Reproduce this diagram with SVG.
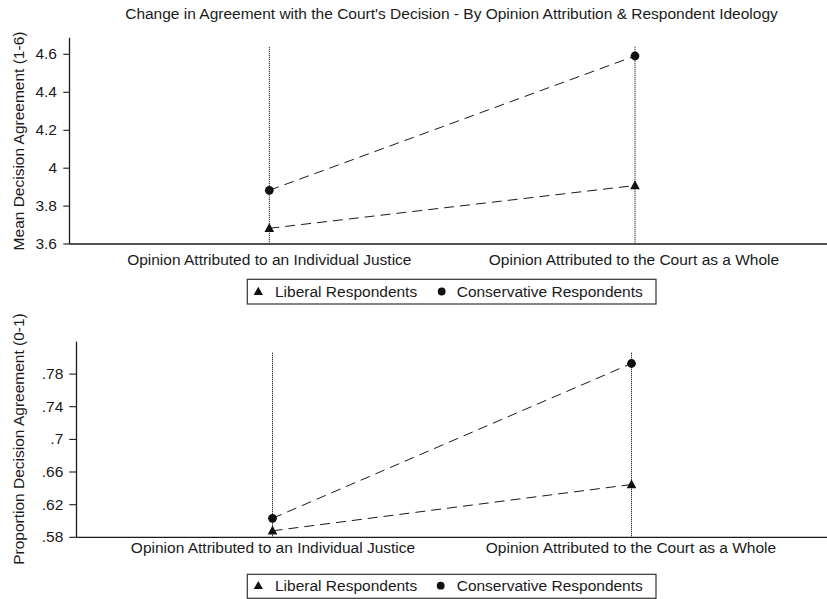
<svg xmlns="http://www.w3.org/2000/svg" xmlns:xlink="http://www.w3.org/1999/xlink" width="827" height="599" viewBox="0 0 827 599">
<style>
text{font-family:"Liberation Sans",Arial,sans-serif;font-size:15.5px;fill:#1a1a1a}
.ax{stroke:#1a1a1a;stroke-width:1.3;fill:none}
.tk{stroke:#1a1a1a;stroke-width:1.1;fill:none}
.dot{stroke:#222;stroke-width:1;stroke-dasharray:1.2 0.8;fill:none}
.dash{stroke:#1a1a1a;stroke-width:1;stroke-dasharray:10 6;fill:none}
.mk{fill:#111}
.lg{fill:#fff;stroke:#333;stroke-width:1.2}
.tl{text-anchor:end}
.mid{text-anchor:middle}
</style>
<defs>
<path id="tri" d="M0,-5.2 L4.8,3.8 L-4.8,3.8 Z"/>
<path id="tri-s" d="M0,-4.6 L4.6,3.6 L-4.6,3.6 Z"/>
</defs>
<text id="title" class="mid" x="451.5" y="18.5">Change in Agreement with the Court's Decision - By Opinion Attribution &amp; Respondent Ideology</text>

<g id="chart-top">
<g id="axes-top">
<line class="ax" x1="69.5" y1="37.7" x2="69.5" y2="244"/>
<line class="ax" x1="69.5" y1="244" x2="827" y2="244"/>
<line class="tk" x1="63.3" y1="54.3" x2="69.5" y2="54.3"/>
<line class="tk" x1="63.3" y1="92.3" x2="69.5" y2="92.3"/>
<line class="tk" x1="63.3" y1="130.3" x2="69.5" y2="130.3"/>
<line class="tk" x1="63.3" y1="168.2" x2="69.5" y2="168.2"/>
<line class="tk" x1="63.3" y1="206.1" x2="69.5" y2="206.1"/>
<line class="tk" x1="63.3" y1="244" x2="69.5" y2="244"/>
<text class="tl" x="57" y="59">4.6</text>
<text class="tl" x="57" y="97">4.4</text>
<text class="tl" x="57" y="135">4.2</text>
<text class="tl" x="57" y="173">4</text>
<text class="tl" x="57" y="211">3.8</text>
<text class="tl" x="57" y="249">3.6</text>
<text class="mid" transform="translate(23.5,141) rotate(-90)">Mean Decision Agreement (1-6)</text>
<text class="mid" x="269.3" y="265">Opinion Attributed to an Individual Justice</text>
<text class="mid" x="634" y="265">Opinion Attributed to the Court as a Whole</text>
<line class="dot" x1="269.3" y1="47" x2="269.3" y2="244"/>
<line class="dot" x1="635" y1="46.7" x2="635" y2="244"/>
</g>
<g id="connectors-top">
<line class="dash" x1="269.3" y1="190.3" x2="635" y2="56"/>
<line class="dash" x1="269.3" y1="228.3" x2="635" y2="185.5"/>
</g>
<g id="cons-indiv-top"><circle class="mk" cx="269.3" cy="190.3" r="4.4"/></g>
<g id="cons-court-top"><circle class="mk" cx="635" cy="56" r="4.4"/></g>
<g id="lib-indiv-top"><use class="mk" xlink:href="#tri" x="269.3" y="228.3"/></g>
<g id="lib-court-top"><use class="mk" xlink:href="#tri" x="635" y="185.5"/></g>
<g id="legend-top">
<rect class="lg" x="247.3" y="279.3" width="408.7" height="24.7"/>
<use class="mk" xlink:href="#tri-s" x="258.3" y="291.3"/>
<text x="275" y="296.7">Liberal Respondents</text>
<circle class="mk" cx="441.7" cy="291.5" r="3.9"/>
<text x="456.7" y="296.7">Conservative Respondents</text>
</g>
</g>

<g id="chart-bottom">
<g id="axes-bottom">
<line class="ax" x1="76.5" y1="341.7" x2="76.5" y2="537.3"/>
<line class="ax" x1="76.5" y1="537.3" x2="827" y2="537.3"/>
<line class="tk" x1="69.3" y1="374.1" x2="76.5" y2="374.1"/>
<line class="tk" x1="69.3" y1="406.7" x2="76.5" y2="406.7"/>
<line class="tk" x1="69.3" y1="439.4" x2="76.5" y2="439.4"/>
<line class="tk" x1="69.3" y1="472" x2="76.5" y2="472"/>
<line class="tk" x1="69.3" y1="504.7" x2="76.5" y2="504.7"/>
<line class="tk" x1="69.3" y1="537.3" x2="76.5" y2="537.3"/>
<text class="tl" x="63.3" y="379">.78</text>
<text class="tl" x="63.3" y="411.5">.74</text>
<text class="tl" x="63.3" y="444.2">.7</text>
<text class="tl" x="63.3" y="476.8">.66</text>
<text class="tl" x="63.3" y="509.5">.62</text>
<text class="tl" x="63.3" y="542.1">.58</text>
<text class="mid" transform="translate(23.5,439) rotate(-90)">Proportion Decision Agreement (0-1)</text>
<text class="mid" x="273" y="553.3">Opinion Attributed to an Individual Justice</text>
<text class="mid" x="631" y="553.3">Opinion Attributed to the Court as a Whole</text>
<line class="dot" x1="272.5" y1="352.7" x2="272.5" y2="537.3"/>
<line class="dot" x1="631.5" y1="352.7" x2="631.5" y2="537.3"/>
</g>
<g id="connectors-bottom">
<line class="dash" x1="272.5" y1="518.3" x2="631.5" y2="363.5"/>
<line class="dash" x1="272.5" y1="530.8" x2="631.5" y2="484.5"/>
</g>
<g id="cons-indiv-bottom"><circle class="mk" cx="272.5" cy="518.3" r="4.4"/></g>
<g id="cons-court-bottom"><circle class="mk" cx="631.5" cy="363.5" r="4.4"/></g>
<g id="lib-indiv-bottom"><use class="mk" xlink:href="#tri" x="272.5" y="530.8"/></g>
<g id="lib-court-bottom"><use class="mk" xlink:href="#tri" x="631.5" y="484.5"/></g>
<g id="legend-bottom">
<rect class="lg" x="247.3" y="574.3" width="408.7" height="24"/>
<use class="mk" xlink:href="#tri-s" x="258.3" y="585.5"/>
<text x="275" y="590.7">Liberal Respondents</text>
<circle class="mk" cx="440.7" cy="585.7" r="3.9"/>
<text x="456.7" y="590.7">Conservative Respondents</text>
</g>
</g>
</svg>
